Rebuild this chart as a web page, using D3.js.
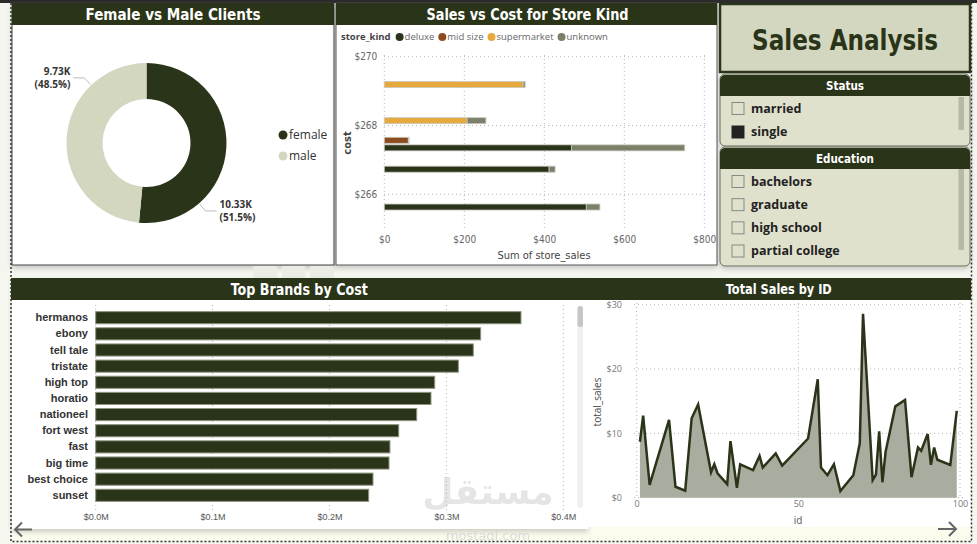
<!DOCTYPE html>
<html>
<head>
<meta charset="utf-8">
<script src="https://cdn.jsdelivr.net/npm/d3@7"></script>
<style>
  body { margin: 0; background: #f6f6f1; }
  svg { display: block; }
  .title { font-family: "DejaVu Sans Condensed", "DejaVu Sans", sans-serif; font-weight: bold; fill: #fff; text-anchor: middle; }
  .grid line { stroke: #b5b5b5; stroke-dasharray: 1,3; }
  .tick-lbl { font-family: "Open Sans", sans-serif; font-size: 9px; fill: #777; }
</style>
</head>
<body>
<svg id="dash" width="977" height="544"></svg>
<script>
// ---- data ----
var genders = ["female", "male"];
var genderCounts = [10330, 9730];

var storeKinds = ["deluxe", "mid size", "supermarket", "unknown"];
var costLevels = [269.19, 268.14, 267.57, 267.35, 266.73, 265.63];
var deluxeSales = [0, 0, 0, 468, 412, 505];
var midSizeSales = [0, 0, 60, 0, 0, 0];
var supermarketSales = [347, 207, 0, 0, 0, 0];
var unknownSales = [5, 47, 2, 283, 15, 34];
var costTicks = [266, 268, 270];
var storeSalesTicks = [0, 200, 400, 600, 800];

var statusOptions = ["married", "single"];
var statusChecked = [false, true];
var educationOptions = ["bachelors", "graduate", "high school", "partial college"];

var brands = ["hermanos", "ebony", "tell tale", "tristate", "high top", "horatio",
              "nationeel", "fort west", "fast", "big time", "best choice", "sunset"];
var brandCost = [363800, 329300, 323000, 310200, 290000, 286800,
                 274600, 259200, 251700, 250900, 237200, 233500];
var brandTicks = [0, 100000, 200000, 300000, 400000];

var saleIds = [1, 2, 4, 10, 12, 15, 17, 19, 23, 24, 25, 28, 29, 31, 32, 36, 38, 39, 43, 45,
               53, 56, 57, 59, 61, 63, 67, 69, 70, 73, 74, 75, 76, 77, 80, 83, 85, 87, 88, 90,
               91, 92, 93, 97, 99];
var totalSales = [8.7, 12.75, 2.0, 12.1, 1.7, 1.1, 12.35, 14.5, 3.95, 5.2, 3.8, 2.1, 8.8, 1.55, 5.2,
                  4.3, 6.5, 4.7, 6.9, 5.0, 9.2, 18.4, 4.7, 3.5, 5.2, 1.05, 3.5, 8.45, 28.6, 2.75,
                  3.6, 10.3, 2.4, 7.2, 14.2, 15.2, 3.2, 7.8, 7.3, 9.9, 5.1, 7.8, 5.9, 5.1, 13.5];
var totalSalesTicks = [0, 10, 20, 30];
var idTicks = [0, 50, 100];

// ---- colours ----
var dark = "#2a3418";
var sage = "#d3d7c0";
var kindColor = d3.scaleOrdinal()
  .domain(storeKinds)
  .range([dark, "#8b4d1f", "#e6a93c", "#7b8069"]);

var svg = d3.select("#dash");

// page frame
svg.append("rect").attr("width", 977).attr("height", 544).attr("fill", "#f6f6f1");
svg.append("rect").attr("width", 977).attr("height", 3).attr("fill", "#2b2b2b");
svg.append("rect").attr("x", 12).attr("y", 527).attr("width", 959).attr("height", 14).attr("fill", "#fbfbee");

// soft shadows under panels
var defs = svg.append("defs");
var shadow = defs.append("filter").attr("id", "sh").attr("x", "-5%").attr("y", "-5%").attr("width", "110%").attr("height", "120%");
shadow.append("feDropShadow").attr("dx", 0).attr("dy", 3).attr("stdDeviation", 2.5).attr("flood-color", "#000").attr("flood-opacity", 0.18);

function titleBar(x, y, w, h, text, size, cx, tlen) {
  svg.append("rect").attr("x", x).attr("y", y).attr("width", w).attr("height", h).attr("fill", dark);
  svg.append("text").attr("class", "title")
    .attr("x", cx).attr("y", y + h / 2).attr("dy", "0.36em")
    .style("font-size", size + "px")
    .attr("textLength", tlen).attr("lengthAdjust", "spacingAndGlyphs")
    .text(text);
}

// =============== Female vs Male ===============
svg.append("rect").attr("x", 12).attr("y", 3).attr("width", 322).attr("height", 262)
  .attr("fill", "#fff").attr("stroke", "#444").attr("stroke-width", 1).attr("filter", "url(#sh)");
titleBar(12, 3, 322, 22, "Female vs Male Clients", 16, 173, 175);

var donut = svg.append("g").attr("transform", "translate(146.5,143)");
var rOut = 80, rIn = 44;
var pie = d3.pie().sort(null).value(function(d) { return d; });
var arcs = pie(genderCounts);
var arc = d3.arc().innerRadius(rIn).outerRadius(rOut);
var genderColor = [dark, sage];
var total = d3.sum(genderCounts);

donut.selectAll("path.slice").data(arcs).enter().append("path")
  .attr("d", arc).attr("fill", function(d, i) { return genderColor[i]; });

arcs.forEach(function(a, i) {
  var ang = a.startAngle + 0.75 * (a.endAngle - a.startAngle);
  var sx = Math.sin(ang), sy = -Math.cos(ang);
  var p0 = [sx * (rOut + 1), sy * (rOut + 1)];
  var p1 = [sx * (rOut + 10), sy * (rOut + 10)];
  var dir = sx >= 0 ? 1 : -1;
  var p2 = [p1[0] + dir * 11, p1[1]];
  donut.append("polyline").attr("points", [p0, p1, p2].join(" "))
    .attr("fill", "none").attr("stroke", "#bbb").attr("stroke-width", 1);
  var t = donut.append("text")
    .attr("x", p2[0] + dir * 3).attr("y", p2[1])
    .attr("text-anchor", dir > 0 ? "start" : "end")
    .style("font-family", "'Open Sans', sans-serif").style("font-size", "10px")
    .style("font-weight", "bold").attr("fill", "#333");
  t.append("tspan").attr("x", p2[0] + dir * 3).attr("dy", "-0.3em").text((genderCounts[i] / 1000).toFixed(2) + "K");
  t.append("tspan").attr("x", p2[0] + dir * 3).attr("dy", "1.35em")
    .text("(" + (genderCounts[i] / total * 100).toFixed(1) + "%)");
});

var gLegend = svg.append("g").attr("transform", "translate(283,135)");
genders.forEach(function(g, i) {
  var row = gLegend.append("g").attr("transform", "translate(0," + (i * 21) + ")");
  row.append("circle").attr("r", 4.5).attr("fill", genderColor[i]);
  row.append("text").attr("x", 6).attr("dy", "0.35em")
    .style("font-family", "'Open Sans', sans-serif").style("font-size", "12px")
    .attr("fill", "#333").text(g);
});

// small visual header icons
[[253, 24], [282, 23], [310, 24]].forEach(function(b) {
  svg.append("rect").attr("x", b[0]).attr("y", 266).attr("width", b[1]).attr("height", 13).attr("fill", "#ebece5");
});

// =============== Sales vs Cost ===============
svg.append("rect").attr("x", 336).attr("y", 3).attr("width", 381).attr("height", 262)
  .attr("fill", "#fff").attr("stroke", "#555").attr("stroke-width", 1).attr("filter", "url(#sh)");
titleBar(336, 3, 381, 22, "Sales vs Cost for Store Kind", 16, 527.5, 202);

var xSales = d3.scaleLinear().domain([0, 800]).range([384.3, 704.3]);
var yCost = d3.scaleLinear().domain([265, 270]).range([228.7, 56.7]);

var sc = svg.append("g");
sc.append("g").attr("class", "grid")
  .selectAll("line").data(costTicks).enter().append("line")
  .attr("x1", 384).attr("x2", 706).attr("y1", yCost).attr("y2", yCost);
sc.append("g").attr("class", "grid")
  .selectAll("line").data(storeSalesTicks).enter().append("line")
  .attr("x1", xSales).attr("x2", xSales).attr("y1", 55).attr("y2", 231);

var yAxisCost = d3.axisLeft(yCost).tickValues(costTicks).tickSize(0).tickPadding(7)
  .tickFormat(function(d) { return "$" + d; });
sc.append("g").attr("transform", "translate(384.3,0)").call(yAxisCost)
  .call(function(g) { g.select(".domain").remove(); })
  .selectAll("text").style("font-family", "'DejaVu Sans Condensed', sans-serif").style("font-size", "10px").attr("fill", "#666");

var xAxisSales = d3.axisBottom(xSales).tickValues(storeSalesTicks).tickSize(0).tickPadding(3)
  .tickFormat(function(d) { return "$" + d; });
sc.append("g").attr("transform", "translate(0,233)").call(xAxisSales)
  .call(function(g) { g.select(".domain").remove(); })
  .selectAll("text").style("font-family", "'DejaVu Sans Condensed', sans-serif").style("font-size", "10px").attr("fill", "#666");

var costRows = costLevels.map(function(c, i) {
  return { cost: c, "deluxe": deluxeSales[i], "mid size": midSizeSales[i],
           "supermarket": supermarketSales[i], "unknown": unknownSales[i] };
});
var stacked = d3.stack().keys(storeKinds)(costRows);
sc.append("g").selectAll("g").data(stacked).enter().append("g")
  .attr("fill", function(s) { return kindColor(s.key); })
  .selectAll("rect").data(function(s) { return s.filter(function(d) { return d[1] > d[0]; }); })
  .enter().append("rect")
  .attr("x", function(d) { return xSales(d[0]); })
  .attr("width", function(d) { return xSales(d[1]) - xSales(d[0]); })
  .attr("y", function(d) { return yCost(d.data.cost) - 3; })
  .attr("height", 6)
  .attr("stroke", "#c8c8c0").attr("stroke-width", 0.8);

sc.append("text").attr("x", 544).attr("y", 255).attr("dy", "0.35em").attr("text-anchor", "middle")
  .style("font-family", "'DejaVu Sans Condensed', sans-serif").style("font-size", "11px").attr("fill", "#444")
  .text("Sum of store_sales");
sc.append("text").attr("transform", "translate(347,143) rotate(-90)").attr("dy", "0.35em").attr("text-anchor", "middle")
  .style("font-family", "'DejaVu Sans Condensed', sans-serif").style("font-size", "11px").style("font-weight", "bold").attr("fill", "#444")
  .text("cost");

// legend
var kLegend = sc.append("g").attr("transform", "translate(341,37)")
  .style("font-family", "'Open Sans', sans-serif").style("font-size", "9.5px");
var lt = kLegend.append("text").attr("dy", "0.35em").style("font-weight", "bold").attr("fill", "#444").text("store_kind");
var lx = lt.node().getComputedTextLength() + 9;
storeKinds.forEach(function(k) {
  kLegend.append("circle").attr("cx", lx).attr("r", 4).attr("fill", kindColor(k));
  var tt = kLegend.append("text").attr("x", lx + 5).attr("dy", "0.35em").attr("fill", "#666").text(k);
  lx += 5 + tt.node().getComputedTextLength() + 8;
});

// =============== Sales Analysis + slicers ===============
svg.append("rect").attr("x", 720).attr("y", 4).attr("width", 250).attr("height", 68)
  .attr("fill", sage).attr("stroke", dark).attr("stroke-width", 2.5);
svg.append("text").attr("x", 845).attr("y", 40).attr("dy", "0.36em").attr("text-anchor", "middle")
  .style("font-family", "'DejaVu Sans Condensed', sans-serif").style("font-weight", "bold").style("font-size", "29px")
  .attr("textLength", 186).attr("lengthAdjust", "spacingAndGlyphs")
  .attr("fill", dark).text("Sales Analysis");

function slicer(y, h, title, tlen, options, checked, rowYs, thumb) {
  var g = svg.append("g");
  g.append("rect").attr("x", 720).attr("y", y).attr("width", 250).attr("height", h).attr("rx", 5)
    .attr("fill", "#dfe1cc").attr("stroke", "#6b6f5f").attr("stroke-width", 1).attr("filter", "url(#sh)");
  g.append("rect").attr("x", 720).attr("y", y + 1).attr("width", 250).attr("height", 21).attr("rx", 5).attr("fill", dark);
  g.append("rect").attr("x", 720).attr("y", y + 10).attr("width", 250).attr("height", 12).attr("fill", dark);
  g.append("text").attr("class", "title").attr("x", 845).attr("y", y + 11.5).attr("dy", "0.36em")
    .style("font-size", "13px").attr("textLength", tlen).attr("lengthAdjust", "spacingAndGlyphs").text(title);
  options.forEach(function(o, i) {
    var ry = rowYs[i];
    g.append("rect").attr("x", 732).attr("y", ry - 6).attr("width", 12).attr("height", 12)
      .attr("fill", checked[i] ? "#222" : "none").attr("stroke", checked[i] ? "#222" : "#888").attr("stroke-width", 1);
    g.append("text").attr("x", 751).attr("y", ry).attr("dy", "0.35em")
      .style("font-family", "'Open Sans', sans-serif").style("font-weight", "bold").style("font-size", "12.5px")
      .attr("fill", "#222").text(o);
  });
  g.append("rect").attr("x", 958.5).attr("y", thumb[0]).attr("width", 5.5).attr("height", thumb[1] - thumb[0]).attr("fill", "#b6b9a6");
}
var statusRows = d3.scalePoint().domain(statusOptions).range([108.5, 132]);
slicer(74, 72, "Status", 38, statusOptions, statusChecked, statusOptions.map(statusRows), [97, 130]);
var eduRows = d3.scalePoint().domain(educationOptions).range([181.5, 251]);
slicer(147, 119, "Education", 58, educationOptions, educationOptions.map(function() { return false; }),
  educationOptions.map(eduRows), [169, 250]);

// =============== Bottom panels ===============
svg.append("rect").attr("x", 12).attr("y", 278).attr("width", 576).attr("height", 251)
  .attr("fill", "#fff").attr("filter", "url(#sh)");
svg.append("rect").attr("x", 588).attr("y", 278).attr("width", 383).attr("height", 249).attr("fill", "#fff");
svg.append("rect").attr("x", 11).attr("y", 278).attr("width", 960).attr("height", 22).attr("fill", dark);
svg.append("text").attr("class", "title").attr("x", 299.3).attr("y", 289).attr("dy", "0.36em")
  .style("font-size", "16px").attr("textLength", 137).attr("lengthAdjust", "spacingAndGlyphs").text("Top Brands by Cost");
svg.append("text").attr("class", "title").attr("x", 778.8).attr("y", 289).attr("dy", "0.36em")
  .style("font-size", "13.5px").attr("textLength", 106).attr("lengthAdjust", "spacingAndGlyphs").text("Total Sales by ID");

// watermark (faint, behind the bars)
svg.append("text").attr("x", 488).attr("y", 504).attr("text-anchor", "middle")
  .style("font-family", "'DejaVu Sans', sans-serif").style("font-weight", "bold").style("font-size", "36px")
  .attr("fill", "#d0d0d0").attr("opacity", 0.55).text("مستقل");
svg.append("text").attr("x", 488).attr("y", 540).attr("text-anchor", "middle")
  .style("font-family", "'DejaVu Sans', sans-serif").style("font-size", "13px")
  .attr("fill", "#d0d0d0").attr("opacity", 0.7).text("mostaql.com");

// ---- Top Brands ----
var xBrand = d3.scaleLinear().domain([0, 400000]).range([95.7, 563.3]);
var yBrand = d3.scaleBand().domain(brands).range([307.6, 505.4]).padding(0.25);
var tb = svg.append("g");
tb.append("g").attr("class", "grid").selectAll("line").data(brandTicks).enter().append("line")
  .attr("x1", xBrand).attr("x2", xBrand).attr("y1", 305).attr("y2", 511);
tb.selectAll("rect.bar").data(brands).enter().append("rect")
  .attr("x", xBrand(0))
  .attr("y", function(d) { return yBrand(d); })
  .attr("height", yBrand.bandwidth())
  .attr("width", function(d, i) { return xBrand(brandCost[i]) - xBrand(0); })
  .attr("fill", dark).attr("stroke", "#8e937f").attr("stroke-width", 1);
tb.append("g").attr("transform", "translate(88,0)")
  .call(d3.axisLeft(yBrand).tickSize(0).tickPadding(0))
  .call(function(g) { g.select(".domain").remove(); })
  .selectAll("text").style("font-family", "'Liberation Sans', Arial, sans-serif").style("font-size", "11px")
  .style("font-weight", "bold").attr("fill", "#333");
tb.append("g").attr("transform", "translate(0,512)")
  .call(d3.axisBottom(xBrand).tickValues(brandTicks).tickSize(0).tickPadding(2)
    .tickFormat(function(d) { return "$" + (d / 1e6).toFixed(1) + "M"; }))
  .call(function(g) { g.select(".domain").remove(); })
  .selectAll("text").style("font-family", "'Liberation Sans', Arial, sans-serif").style("font-size", "9px").attr("fill", "#555");
// scroll bar
tb.append("rect").attr("x", 577.5).attr("y", 306).attr("width", 5.5).attr("height", 202).attr("rx", 2.5).attr("fill", "#f0f0f0");
tb.append("rect").attr("x", 577.5).attr("y", 306).attr("width", 5.5).attr("height", 21).attr("rx", 2.5).attr("fill", "#c6c6c6");

// ---- Total Sales by ID ----
var xId = d3.scaleLinear().domain([0, 100]).range([636.7, 960]);
var ySales = d3.scaleLinear().domain([0, 30]).range([497.7, 304.7]);
var ts = svg.append("g");
ts.append("g").attr("class", "grid").selectAll("line").data(totalSalesTicks).enter().append("line")
  .attr("x1", 634).attr("x2", 963).attr("y1", ySales).attr("y2", ySales);
ts.append("g").attr("class", "grid").selectAll("line").data(idTicks).enter().append("line")
  .attr("x1", xId).attr("x2", xId).attr("y1", 303).attr("y2", 499);

var pts = saleIds.map(function(id, i) { return [id, totalSales[i]]; });
ts.append("path").datum(pts)
  .attr("d", d3.area().x(function(d) { return xId(d[0]); }).y0(ySales(0)).y1(function(d) { return ySales(d[1]); }))
  .attr("fill", "#a9ada0");
ts.append("path").datum(pts)
  .attr("d", d3.line().x(function(d) { return xId(d[0]); }).y(function(d) { return ySales(d[1]); }))
  .attr("fill", "none").attr("stroke", dark).attr("stroke-width", 2.5).attr("stroke-linejoin", "miter");

ts.append("g").attr("transform", "translate(622,0)")
  .call(d3.axisLeft(ySales).tickValues(totalSalesTicks).tickSize(0).tickPadding(0)
    .tickFormat(function(d) { return "$" + d; }))
  .call(function(g) { g.select(".domain").remove(); })
  .selectAll("text").attr("class", "tick-lbl");
ts.append("g").attr("transform", "translate(0,501)")
  .call(d3.axisBottom(xId).tickValues(idTicks).tickSize(0).tickPadding(0))
  .call(function(g) { g.select(".domain").remove(); })
  .selectAll("text").attr("class", "tick-lbl");
ts.append("text").attr("x", 798).attr("y", 520).attr("dy", "0.35em").attr("text-anchor", "middle")
  .style("font-family", "'Open Sans', sans-serif").style("font-size", "10px").attr("fill", "#555").text("id");
ts.append("text").attr("transform", "translate(597,402) rotate(-90)").attr("dy", "0.35em").attr("text-anchor", "middle")
  .style("font-family", "'Open Sans', sans-serif").style("font-size", "10px").attr("fill", "#444").text("total_sales");

// page nav arrows
svg.append("path").attr("d", "M32,529.5H15M22,522.5L15,529.5L22,536.5")
  .attr("fill", "none").attr("stroke", "#666").attr("stroke-width", 2);
svg.append("path").attr("d", "M938,529H956M949,522L956,529L949,536")
  .attr("fill", "none").attr("stroke", "#666").attr("stroke-width", 2);

// dotted canvas border
svg.append("path").attr("d", "M11,3V541.5H971.5V3")
  .attr("fill", "none").attr("stroke", "#333").attr("stroke-width", 1.5).attr("stroke-dasharray", "2,2");
</script>
</body>
</html>
